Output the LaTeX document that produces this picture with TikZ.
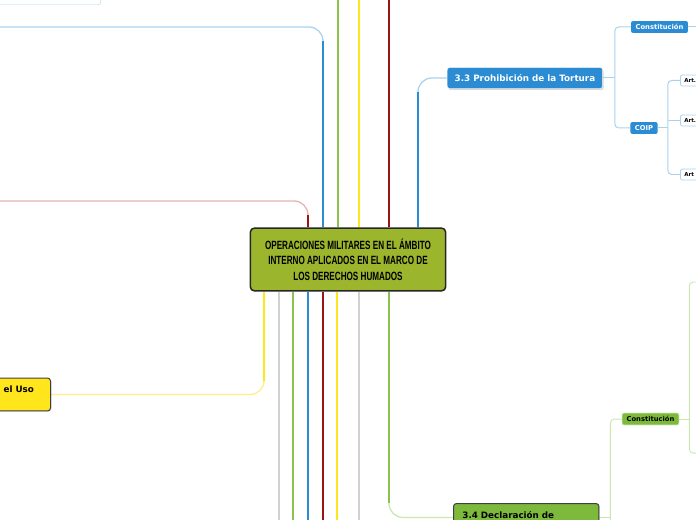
\documentclass[tikz,border=0pt]{standalone}
\usepackage{fontspec}
\setmainfont{DejaVu Sans}
\newfontfamily\titlefont[FakeStretch=0.68]{Liberation Sans}
\usepackage{xcolor}
\usetikzlibrary{positioning, calc, shadows, backgrounds}

\definecolor{mmblue}{HTML}{2B8CD3}
\definecolor{mmlblue}{HTML}{A9D2EE}
\definecolor{mmgreen}{HTML}{8CC34B}
\definecolor{mmlgreen}{HTML}{CBE7AE}
\definecolor{mmyellow}{HTML}{FFE51C}
\definecolor{mmlyellow}{HTML}{FFEF80}
\definecolor{mmred}{HTML}{9A1414}
\definecolor{mmpink}{HTML}{E3B3B3}
\definecolor{mmgrey}{HTML}{D2D2D2}
\definecolor{mmolive}{HTML}{9BB52D}
\definecolor{mmboxgreen}{HTML}{7DBA3C}

\tikzset{
  mainbox/.style={fill=mmolive, draw=black!85, line width=1.5, rounded corners=4,
    minimum width=196, minimum height=63, align=center,
    font=\titlefont\bfseries\fontsize{12}{15.5}\selectfont},
  bluebox/.style={fill=mmblue, draw=white, text=white, rounded corners=2.5,
    font=\bfseries\fontsize{8.8}{10}\selectfont, inner xsep=7.5, minimum height=21,
    drop shadow={opacity=0.3, shadow xshift=1bp, shadow yshift=-1.5bp}},
  subbox/.style={rounded corners=2, font=\bfseries\fontsize{6.8}{8}\selectfont,
    inner xsep=4.5, inner ysep=0, minimum height=12},
  artbox/.style={fill=white, draw=mmlblue, line width=0.8, rounded corners=2,
    font=\bfseries\fontsize{5.5}{6}\selectfont, inner xsep=4, inner ysep=0,
    minimum height=11, text width=22, align=left, anchor=west},
  branch/.style={line width=2},
  twig/.style={line width=1, rounded corners=4},
}

\begin{document}
\begin{tikzpicture}[x=1bp, y=-1bp]
\useasboundingbox (0,0) rectangle (696,520);
\clip (0,0) rectangle (696,520);

\coordinate (topedge) at (0,0);
\coordinate (botedge) at (0,520);
\coordinate (tl) at (0,27);
\coordinate (ml) at (0,201);
\coordinate (g1) at (696,282);
\coordinate (g2) at (696,453);

% nodes
\node[mainbox] (center) at (348,259.5)
  {OPERACIONES MILITARES EN EL ÁMBITO\\INTERNO APLICADOS EN EL MARCO DE\\LOS DERECHOS HUMADOS};
\node[fill=white, draw=mmlblue, rounded corners=3, anchor=south east,
  minimum width=200, minimum height=30] (oldbox) at (101,5) {};
\node[bluebox, anchor=west] (tortura) at (447,78) {3.3 Prohibición de la Tortura};
\node[subbox, fill=mmblue, text=white] (const1) at (659.5,27) {Constitución};
\node[subbox, fill=mmblue, text=white] (coip) at (644,128) {COIP};
\node[artbox] (art1) at (680,80.5) {Art.};
\node[artbox] (art2) at (680,120.5) {Art.};
\node[artbox] (art3) at (680,174.5) {Art};
\node[fill=mmyellow, draw=black!75, line width=1, rounded corners=3, anchor=east,
  font=\bfseries\fontsize{8.8}{10}\selectfont, inner xsep=8, inner ysep=5.5,
  text width=39, align=left, text height=9, text depth=13,
  drop shadow={opacity=0.25, shadow xshift=1bp, shadow yshift=-1bp}]
  (uso) at (51,394.5) {el Uso};
\node[fill=mmboxgreen, draw=black!75, line width=1, rounded corners=3, anchor=north west,
  font=\bfseries\fontsize{8.8}{10}\selectfont, inner xsep=9, inner ysep=5.5,
  text width=128, align=left, text height=9.5, text depth=7.5,
  drop shadow={opacity=0.25, shadow xshift=1bp, shadow yshift=-1bp}]
  (decl) at (453,503) {3.4 Declaración de};
\node[subbox, fill=mmboxgreen, draw=mmlgreen, line width=0.6] (const2) at (650.5,419) {Constitución};

\begin{scope}[on background layer]
% straight branches through the top
\foreach \dx/\col in {-10/mmgreen, 11/mmyellow, 41/mmred}
  \draw[branch, \col] ($(center.north)+(\dx,0)$) coordinate (s) -- (s |- topedge);

% straight branches through the bottom
\foreach \dx/\col in {-69/mmgrey, -55/mmgreen, -40/mmblue, -25/mmred, -11/mmyellow, 11/mmgrey}
  \draw[branch, \col] ($(center.south)+(\dx,0)$) coordinate (s) -- (s |- botedge);

% curved branches
\draw[mmlblue, line width=1.3, rounded corners=14] ($(center.north)+(-25,0)$) coordinate (s1) |- (tl);
\draw[branch, mmblue] (s1) -- ($(s1 |- tl)+(0,14)$);
\draw[mmpink, line width=1.3, rounded corners=14] ($(center.north)+(-40,0)$) coordinate (s2) |- (ml);
\draw[branch, mmred] (s2) -- ($(s2 |- ml)+(0,14)$);
\draw[mmlblue, line width=1.3, rounded corners=14] ($(center.north)+(70,0)$) coordinate (s3) |- (tortura.west);
\draw[branch, mmblue] (s3) -- ($(s3 |- tortura.west)+(0,14)$);
\draw[mmlyellow, line width=1.3, rounded corners=14] ($(center.south)+(-84,0)$) coordinate (s4) |- (uso.east);
\draw[branch, mmyellow] (s4) -- ($(s4 |- uso.east)+(0,-14)$);
\draw[mmlgreen, line width=1.3, rounded corners=14] ($(center.south)+(41,0)$) coordinate (s5) |- (decl.west);
\draw[branch, mmgreen] (s5) -- ($(s5 |- decl.west)+(0,-14)$);

% sub branches
\draw[twig, mmlblue] (tortura.east) -- ++(12,0) coordinate (br1);
\draw[twig, mmlblue] (const1.west) -| (br1) |- (coip.west);
\draw[twig, mmlblue] (const1.east) -- (const1.east -| g1);
\draw[twig, mmlblue] (coip.east) -- ++(10,0) coordinate (br2);
\draw[twig, mmlblue] (art1.west) -| (br2) |- (art3.west);
\draw[twig, mmlblue] (art2.west) -- (art2.west -| br2);
\draw[twig, mmlgreen] (decl.east) -- ++(11,0) coordinate (br3);
\draw[twig, mmlgreen] (const2.west) -| (br3) -- (br3 |- botedge);
\draw[twig, mmlgreen] (const2.east) -- ++(10,0) coordinate (br4);
\draw[twig, mmlgreen] (g1) -| (br4) |- (g2);
\end{scope}
\end{tikzpicture}
\end{document}
